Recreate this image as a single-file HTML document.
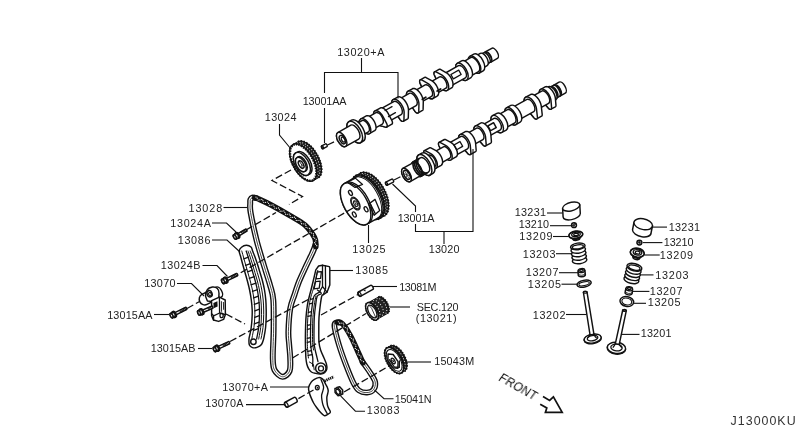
<!DOCTYPE html>
<html lang="en"><head><meta charset="utf-8"><title>J13000KU</title>
<style>
html,body{margin:0;padding:0;background:#fff;}
body{width:800px;height:437px;overflow:hidden;}
svg{display:block;}
.lb text{font-family:"Liberation Sans",sans-serif;font-size:10.8px;fill:#222;}
.dn{font-family:"Liberation Sans",sans-serif;font-size:12.4px;fill:#333;}
.fr{font-family:"Liberation Sans",sans-serif;font-size:11.8px;fill:#111;}
.ld{fill:none;stroke:#111;stroke-width:1.1;}
.ds{fill:none;stroke:#111;stroke-width:1.3;stroke-dasharray:7.2 3;}
.p{fill:#fff;stroke:#111;stroke-width:1.45;stroke-linejoin:round;stroke-linecap:round;}
.n{fill:none;stroke:#111;stroke-width:1.3;stroke-linejoin:round;stroke-linecap:round;}
.k{fill:#111;stroke:none;}
.kb{fill:#222;stroke:#111;stroke-width:1;}
.tt{fill:none;stroke:#111;stroke-width:2;}
.tw{fill:none;stroke:#fff;stroke-width:.9;}
.c1{fill:none;stroke:#111;stroke-linecap:round;stroke-linejoin:round;}
.c2{fill:none;stroke:#fff;stroke-linecap:round;stroke-linejoin:round;}
.c3{fill:none;stroke:#333;stroke-width:.9;}
.c4{fill:none;stroke:#fff;stroke-width:1.2;stroke-linecap:round;}
</style></head><body>
<svg width="800" height="437" viewBox="0 0 800 437">
<defs><filter id="nf" x="0" y="0" width="800" height="437" filterUnits="userSpaceOnUse"><feOffset dx="0" dy="0"/></filter></defs>
<rect width="800" height="437" fill="#fff"/>
<g transform="translate(341.7,139.5) rotate(-29.4)">
<path class="p" d="M168,-5.8 L175.5,-5.8 A2.9,5.8 0 0 1 175.5,5.8 L168,5.8 A2.9,5.8 0 0 1 168,-5.8 Z"/>
<ellipse class="p" cx="168" cy="0" rx="2.9" ry="5.8"/>
<path class="p" d="M166,-4.8 L168,-4.8 A2.4,4.8 0 0 1 168,4.8 L166,4.8 A2.4,4.8 0 0 1 166,-4.8 Z"/>
<ellipse class="p" cx="166" cy="0" rx="2.4" ry="4.8"/>
<path class="p" d="M163,-5.8 L166,-5.8 A2.9,5.8 0 0 1 166,5.8 L163,5.8 A2.9,5.8 0 0 1 163,-5.8 Z"/>
<ellipse class="p" cx="163" cy="0" rx="2.9" ry="5.8"/>
<path class="p" d="M157,-7 L163,-7 A3.5,7 0 0 1 163,7 L157,7 A3.5,7 0 0 1 157,-7 Z"/>
<ellipse class="p" cx="157" cy="0" rx="3.5" ry="7"/>
<path class="p" d="M152.5,-9.6 L157,-9.6 A4.8,9.6 0 0 1 157,9.6 L152.5,9.6 A4.8,9.6 0 0 1 152.5,-9.6 Z"/>
<ellipse class="p" cx="152.5" cy="0" rx="4.8" ry="9.6"/>
<path class="p" d="M143,-8 L152.5,-8 A4,8 0 0 1 152.5,8 L143,8 A4,8 0 0 1 143,-8 Z"/>
<ellipse class="p" cx="143" cy="0" rx="4" ry="8"/>
<path class="p" d="M138,-9.6 L143,-9.6 A4.8,9.6 0 0 1 143,9.6 L138,9.6 A4.8,9.6 0 0 1 138,-9.6 Z"/>
<ellipse class="p" cx="138" cy="0" rx="4.8" ry="9.6"/>
<path class="p" d="M121,-7 L138,-7 A3.5,7 0 0 1 138,7 L121,7 A3.5,7 0 0 1 121,-7 Z"/>
<ellipse class="p" cx="121" cy="0" rx="3.5" ry="7"/>
<path class="p" d="M119.25,-13.38 L119.5,-13.35 L119.74,-13.26 L119.98,-13.1 L120.2,-12.88 L120.4,-12.6 L123.74,-7.14 L124.18,-6.36 L124.57,-5.48 L124.9,-4.5 L125.16,-3.44 L125.35,-2.33 L125.46,-1.18 L125.5,0 L125.46,1.18 L125.35,2.33 L125.16,3.44 L124.9,4.5 L124.57,5.48 L124.18,6.36 L123.74,7.14 L123.25,7.79 L122.72,8.31 L122.16,8.69 L121.59,8.92 L121,9 L116,9 L115.41,8.92 L114.84,8.69 L114.28,8.31 L113.75,7.79 L113.26,7.14 L112.82,6.36 L112.43,5.48 L112.1,4.5 L111.84,3.44 L111.65,2.33 L111.54,1.18 L111.5,0 L111.54,-1.18 L112.38,-10.1 L112.43,-10.58 L112.51,-11.05 L112.62,-11.49 L112.75,-11.9 L112.92,-12.28 L113.1,-12.6 L113.31,-12.88 L113.53,-13.1 L113.76,-13.26 L114.01,-13.35 L114.25,-13.38 Z" />
<path class="p" d="M111.5,0 L111.54,-1.18 L112.38,-10.1 L112.43,-10.58 L112.51,-11.05 L112.62,-11.49 L112.75,-11.9 L112.92,-12.28 L113.1,-12.6 L113.31,-12.88 L113.53,-13.1 L113.76,-13.26 L114.01,-13.35 L114.25,-13.38 L114.5,-13.35 L114.74,-13.26 L114.98,-13.1 L115.2,-12.88 L115.4,-12.6 L118.74,-7.14 L119.18,-6.36 L119.57,-5.48 L119.9,-4.5 L120.16,-3.44 L120.35,-2.33 L120.46,-1.18 L120.5,0 L120.46,1.18 L120.35,2.33 L120.16,3.44 L119.9,4.5 L119.57,5.48 L119.18,6.36 L118.74,7.14 L118.25,7.79 L117.72,8.31 L117.16,8.69 L116.59,8.92 L116,9 L115.41,8.92 L114.84,8.69 L114.28,8.31 L113.75,7.79 L113.26,7.14 L112.82,6.36 L112.43,5.48 L112.1,4.5 L111.84,3.44 L111.65,2.33 L111.54,1.18 Z" />
<path class="p" d="M104.5,-6.5 L116,-6.5 A3.25,6.5 0 0 1 116,6.5 L104.5,6.5 A3.25,6.5 0 0 1 104.5,-6.5 Z"/>
<ellipse class="p" cx="104.5" cy="0" rx="3.25" ry="6.5"/>
<path class="p" d="M102.75,-13.38 L103,-13.35 L103.24,-13.26 L103.48,-13.1 L103.7,-12.88 L103.9,-12.6 L107.24,-7.14 L107.68,-6.36 L108.07,-5.48 L108.4,-4.5 L108.66,-3.44 L108.85,-2.33 L108.96,-1.18 L109,0 L108.96,1.18 L108.85,2.33 L108.66,3.44 L108.4,4.5 L108.07,5.48 L107.68,6.36 L107.24,7.14 L106.75,7.79 L106.22,8.31 L105.66,8.69 L105.09,8.92 L104.5,9 L99.5,9 L98.91,8.92 L98.34,8.69 L97.78,8.31 L97.25,7.79 L96.76,7.14 L96.32,6.36 L95.93,5.48 L95.6,4.5 L95.34,3.44 L95.15,2.33 L95.04,1.18 L95,0 L95.04,-1.18 L95.88,-10.1 L95.93,-10.58 L96.01,-11.05 L96.12,-11.49 L96.25,-11.9 L96.42,-12.28 L96.6,-12.6 L96.81,-12.88 L97.03,-13.1 L97.26,-13.26 L97.51,-13.35 L97.75,-13.38 Z" />
<path class="p" d="M95,0 L95.04,-1.18 L95.88,-10.1 L95.93,-10.58 L96.01,-11.05 L96.12,-11.49 L96.25,-11.9 L96.42,-12.28 L96.6,-12.6 L96.81,-12.88 L97.03,-13.1 L97.26,-13.26 L97.51,-13.35 L97.75,-13.38 L98,-13.35 L98.24,-13.26 L98.48,-13.1 L98.7,-12.88 L98.9,-12.6 L102.24,-7.14 L102.68,-6.36 L103.07,-5.48 L103.4,-4.5 L103.66,-3.44 L103.85,-2.33 L103.96,-1.18 L104,0 L103.96,1.18 L103.85,2.33 L103.66,3.44 L103.4,4.5 L103.07,5.48 L102.68,6.36 L102.24,7.14 L101.75,7.79 L101.22,8.31 L100.66,8.69 L100.09,8.92 L99.5,9 L98.91,8.92 L98.34,8.69 L97.78,8.31 L97.25,7.79 L96.76,7.14 L96.32,6.36 L95.93,5.48 L95.6,4.5 L95.34,3.44 L95.15,2.33 L95.04,1.18 Z" />
<path class="p" d="M86.5,-6.5 L99.5,-6.5 A3.25,6.5 0 0 1 99.5,6.5 L86.5,6.5 A3.25,6.5 0 0 1 86.5,-6.5 Z"/>
<ellipse class="p" cx="86.5" cy="0" rx="3.25" ry="6.5"/>
<path class="p" d="M86.5,-9.5 L87.12,-9.42 L87.73,-9.18 L88.32,-8.78 L88.88,-8.23 L89.39,-7.54 L89.86,-6.72 L90.27,-5.78 L90.61,-4.75 L90.89,-3.63 L91.09,-2.46 L91.21,-1.24 L91.25,0 L91.21,1.24 L91.09,2.46 L90.89,3.63 L90.61,4.75 L90.27,5.78 L89.86,6.72 L89.39,7.54 L85.83,13.51 L85.61,13.8 L85.38,14.03 L85.13,14.2 L84.88,14.3 L84.62,14.34 L79.62,14.34 L79.36,14.3 L79.1,14.2 L78.85,14.03 L78.62,13.8 L78.4,13.51 L78.21,13.17 L78.03,12.78 L77.89,12.34 L77.77,11.87 L77.69,11.38 L77.64,10.87 L76.79,1.24 L76.75,0 L76.79,-1.24 L76.91,-2.46 L77.11,-3.63 L77.39,-4.75 L77.73,-5.78 L78.14,-6.72 L78.61,-7.54 L79.12,-8.23 L79.68,-8.78 L80.27,-9.18 L80.88,-9.42 L81.5,-9.5 Z" />
<path class="p" d="M76.75,0 L76.79,-1.24 L76.91,-2.46 L77.11,-3.63 L77.39,-4.75 L77.73,-5.78 L78.14,-6.72 L78.61,-7.54 L79.12,-8.23 L79.68,-8.78 L80.27,-9.18 L80.88,-9.42 L81.5,-9.5 L82.12,-9.42 L82.73,-9.18 L83.32,-8.78 L83.88,-8.23 L84.39,-7.54 L84.86,-6.72 L85.27,-5.78 L85.61,-4.75 L85.89,-3.63 L86.09,-2.46 L86.21,-1.24 L86.25,0 L86.21,1.24 L86.09,2.46 L85.89,3.63 L85.61,4.75 L85.27,5.78 L84.86,6.72 L84.39,7.54 L80.83,13.51 L80.61,13.8 L80.38,14.03 L80.13,14.2 L79.88,14.3 L79.62,14.34 L79.36,14.3 L79.1,14.2 L78.85,14.03 L78.62,13.8 L78.4,13.51 L78.21,13.17 L78.03,12.78 L77.89,12.34 L77.77,11.87 L77.69,11.38 L77.64,10.87 L76.79,1.24 Z" />
<path class="p" d="M69.5,-7 L81.5,-7 A3.5,7 0 0 1 81.5,7 L69.5,7 A3.5,7 0 0 1 69.5,-7 Z"/>
<ellipse class="p" cx="69.5" cy="0" rx="3.5" ry="7"/>
<path class="p" d="M69.5,-9.5 L70.12,-9.42 L70.73,-9.18 L71.32,-8.78 L71.88,-8.23 L72.39,-7.54 L72.86,-6.72 L73.27,-5.78 L73.61,-4.75 L73.89,-3.63 L74.09,-2.46 L74.21,-1.24 L74.25,0 L74.21,1.24 L74.09,2.46 L73.89,3.63 L73.61,4.75 L73.27,5.78 L72.86,6.72 L72.39,7.54 L68.83,13.51 L68.61,13.8 L68.38,14.03 L68.13,14.2 L67.88,14.3 L67.62,14.34 L62.62,14.34 L62.36,14.3 L62.1,14.2 L61.85,14.03 L61.62,13.8 L61.4,13.51 L61.21,13.17 L61.03,12.78 L60.89,12.34 L60.77,11.87 L60.69,11.38 L60.64,10.87 L59.79,1.24 L59.75,0 L59.79,-1.24 L59.91,-2.46 L60.11,-3.63 L60.39,-4.75 L60.73,-5.78 L61.14,-6.72 L61.61,-7.54 L62.12,-8.23 L62.68,-8.78 L63.27,-9.18 L63.88,-9.42 L64.5,-9.5 Z" />
<path class="p" d="M59.75,0 L59.79,-1.24 L59.91,-2.46 L60.11,-3.63 L60.39,-4.75 L60.73,-5.78 L61.14,-6.72 L61.61,-7.54 L62.12,-8.23 L62.68,-8.78 L63.27,-9.18 L63.88,-9.42 L64.5,-9.5 L65.12,-9.42 L65.73,-9.18 L66.32,-8.78 L66.88,-8.23 L67.39,-7.54 L67.86,-6.72 L68.27,-5.78 L68.61,-4.75 L68.89,-3.63 L69.09,-2.46 L69.21,-1.24 L69.25,0 L69.21,1.24 L69.09,2.46 L68.89,3.63 L68.61,4.75 L68.27,5.78 L67.86,6.72 L67.39,7.54 L63.83,13.51 L63.61,13.8 L63.38,14.03 L63.13,14.2 L62.88,14.3 L62.62,14.34 L62.36,14.3 L62.1,14.2 L61.85,14.03 L61.62,13.8 L61.4,13.51 L61.21,13.17 L61.03,12.78 L60.89,12.34 L60.77,11.87 L60.69,11.38 L60.64,10.87 L59.79,1.24 Z" />
<path class="p" d="M49,-7.5 L64,-7.5 A3.75,7.5 0 0 1 64,7.5 L49,7.5 A3.75,7.5 0 0 1 49,-7.5 Z"/>
<ellipse class="p" cx="49" cy="0" rx="3.75" ry="7.5"/>
<path class="p" d="M49,-8.5 L49.55,-8.43 L50.1,-8.21 L50.63,-7.85 L51.12,-7.36 L51.59,-6.74 L52.01,-6.01 L52.37,-5.17 L52.68,-4.25 L52.93,-3.25 L53.11,-2.2 L53.21,-1.11 L53.25,0 L53.02,7.73 L53,8.2 L52.96,8.66 L52.88,9.1 L52.78,9.52 L52.65,9.91 L52.49,10.26 L52.32,10.57 L52.12,10.82 L51.92,11.03 L51.69,11.18 L51.47,11.27 L51.23,11.3 L45.23,11.3 L45,11.27 L44.77,11.18 L44.55,11.03 L44.34,10.82 L40.88,7.36 L40.41,6.74 L39.99,6.01 L39.63,5.17 L39.32,4.25 L39.07,3.25 L38.89,2.2 L38.79,1.11 L38.75,0 L38.79,-1.11 L38.89,-2.2 L39.07,-3.25 L39.32,-4.25 L39.63,-5.17 L39.99,-6.01 L40.41,-6.74 L40.88,-7.36 L41.37,-7.85 L41.9,-8.21 L42.45,-8.43 L43,-8.5 Z" />
<path class="p" d="M38.75,0 L38.79,-1.11 L38.89,-2.2 L39.07,-3.25 L39.32,-4.25 L39.63,-5.17 L39.99,-6.01 L40.41,-6.74 L40.88,-7.36 L41.37,-7.85 L41.9,-8.21 L42.45,-8.43 L43,-8.5 L43.55,-8.43 L44.1,-8.21 L44.63,-7.85 L45.12,-7.36 L45.59,-6.74 L46.01,-6.01 L46.37,-5.17 L46.68,-4.25 L46.93,-3.25 L47.11,-2.2 L47.21,-1.11 L47.25,0 L47.02,7.73 L47,8.2 L46.96,8.66 L46.88,9.1 L46.78,9.52 L46.65,9.91 L46.49,10.26 L46.32,10.57 L46.12,10.82 L45.92,11.03 L45.69,11.18 L45.47,11.27 L45.23,11.3 L45,11.27 L44.77,11.18 L44.55,11.03 L44.34,10.82 L40.88,7.36 L40.41,6.74 L39.99,6.01 L39.63,5.17 L39.32,4.25 L39.07,3.25 L38.89,2.2 L38.79,1.11 Z" />
<path class="p" d="M33,-6.5 L43,-6.5 A3.25,6.5 0 0 1 43,6.5 L33,6.5 A3.25,6.5 0 0 1 33,-6.5 Z"/>
<ellipse class="p" cx="33" cy="0" rx="3.25" ry="6.5"/>
<path class="p" d="M33,-8.5 L33.55,-8.43 L34.1,-8.21 L34.63,-7.85 L35.12,-7.36 L35.59,-6.74 L36.01,-6.01 L36.37,-5.17 L36.68,-4.25 L36.93,-3.25 L37.11,-2.2 L37.21,-1.11 L37.25,0 L37.21,1.11 L37.11,2.2 L36.93,3.25 L36.68,4.25 L36.37,5.17 L36.01,6.01 L35.59,6.74 L35.12,7.36 L34.63,7.85 L34.1,8.21 L33.55,8.43 L33,8.5 L27,8.5 L26.45,8.43 L25.9,8.21 L25.37,7.85 L24.88,7.36 L24.41,6.74 L24,6.01 L23.63,5.17 L21.39,-0.88 L21.26,-1.27 L21.16,-1.69 L21.08,-2.13 L21.03,-2.59 L21.02,-3.05 L21.03,-3.52 L21.08,-3.98 L21.16,-4.42 L21.26,-4.84 L21.39,-5.23 L21.54,-5.58 L21.72,-5.89 L21.91,-6.15 L22.12,-6.35 L22.34,-6.5 L25.9,-8.21 L26.45,-8.43 L27,-8.5 Z" />
<path class="p" d="M21.02,-3.05 L21.03,-3.52 L21.08,-3.98 L21.16,-4.42 L21.26,-4.84 L21.39,-5.23 L21.54,-5.58 L21.72,-5.89 L21.91,-6.15 L22.12,-6.35 L22.34,-6.5 L25.9,-8.21 L26.45,-8.43 L27,-8.5 L27.55,-8.43 L28.1,-8.21 L28.63,-7.85 L29.12,-7.36 L29.59,-6.74 L30,-6.01 L30.37,-5.17 L30.68,-4.25 L30.93,-3.25 L31.11,-2.2 L31.21,-1.11 L31.25,0 L31.21,1.11 L31.11,2.2 L30.93,3.25 L30.68,4.25 L30.37,5.17 L30,6.01 L29.59,6.74 L29.12,7.36 L28.63,7.85 L28.1,8.21 L27.55,8.43 L27,8.5 L26.45,8.43 L25.9,8.21 L25.37,7.85 L24.88,7.36 L24.41,6.74 L24,6.01 L23.63,5.17 L21.39,-0.88 L21.26,-1.27 L21.16,-1.69 L21.08,-2.13 L21.03,-2.59 Z" />
<path class="p" d="M18,-6.5 L27,-6.5 A3.25,6.5 0 0 1 27,6.5 L18,6.5 A3.25,6.5 0 0 1 18,-6.5 Z"/>
<ellipse class="p" cx="18" cy="0" rx="3.25" ry="6.5"/>
<path class="p" d="M15,-12 L18,-12 A6,12 0 0 1 18,12 L15,12 A6,12 0 0 1 15,-12 Z"/>
<ellipse class="p" cx="15" cy="0" rx="6" ry="12"/>
<path class="p" d="M0,-8 L15,-8 A4,8 0 0 1 15,8 L0,8 A4,8 0 0 1 0,-8 Z"/>
<ellipse class="p" cx="0" cy="0" rx="4" ry="8"/>
<ellipse class="p" cx="0.6" cy="0.5" rx="2.6" ry="4.6" />
<ellipse class="n" cx="1.2" cy="0.8" rx="1.5" ry="2.8" />
<path class="n" d="M127,-3 L136,-3 L136,2 L127,2 Z" />
<path class="n" d="M52,-4 L60,-4 M52,3 L60,3" />
<path class="n" d="M90,4.5 L94,4.5 M107,4.6 L111,4.6" style="stroke-width:1.8"/>
</g>
<g transform="translate(406.5,175) rotate(-29.3)">
<path class="p" d="M173,-6.3 L178.5,-6.3 A3.15,6.3 0 0 1 178.5,6.3 L173,6.3 A3.15,6.3 0 0 1 173,-6.3 Z"/>
<ellipse class="p" cx="173" cy="0" rx="3.15" ry="6.3"/>
<path class="p" d="M171.5,-5 L173,-5 A2.5,5 0 0 1 173,5 L171.5,5 A2.5,5 0 0 1 171.5,-5 Z"/>
<ellipse class="p" cx="171.5" cy="0" rx="2.5" ry="5"/>
<path class="p" d="M169,-6.3 L171.5,-6.3 A3.15,6.3 0 0 1 171.5,6.3 L169,6.3 A3.15,6.3 0 0 1 169,-6.3 Z"/>
<ellipse class="p" cx="169" cy="0" rx="3.15" ry="6.3"/>
<path class="p" d="M167,-5 L169,-5 A2.5,5 0 0 1 169,5 L167,5 A2.5,5 0 0 1 167,-5 Z"/>
<ellipse class="p" cx="167" cy="0" rx="2.5" ry="5"/>
<path class="p" d="M164,-7.5 L167,-7.5 A3.75,7.5 0 0 1 167,7.5 L164,7.5 A3.75,7.5 0 0 1 164,-7.5 Z"/>
<ellipse class="p" cx="164" cy="0" rx="3.75" ry="7.5"/>
<path class="p" d="M164,-9 L164.59,-8.92 L165.16,-8.69 L165.72,-8.31 L166.25,-7.79 L166.74,-7.14 L167.18,-6.36 L167.57,-5.48 L167.9,-4.5 L168.16,-3.44 L168.35,-2.33 L168.46,-1.18 L168.5,0 L168.46,1.18 L168.35,2.33 L168.16,3.44 L167.9,4.5 L167.57,5.48 L167.18,6.36 L164.49,12.24 L164.31,12.57 L164.1,12.85 L163.88,13.06 L163.65,13.22 L163.4,13.32 L163.16,13.35 L158.16,13.35 L157.91,13.32 L157.67,13.22 L157.43,13.06 L157.21,12.85 L157.01,12.57 L156.82,12.24 L156.66,11.87 L156.52,11.46 L156.41,11.02 L154.84,3.44 L154.65,2.33 L154.54,1.18 L154.5,0 L154.54,-1.18 L154.65,-2.33 L154.84,-3.44 L155.1,-4.5 L155.43,-5.48 L155.82,-6.36 L156.26,-7.14 L156.75,-7.79 L157.28,-8.31 L157.84,-8.69 L158.41,-8.92 L159,-9 Z" />
<path class="p" d="M154.5,0 L154.54,-1.18 L154.65,-2.33 L154.84,-3.44 L155.1,-4.5 L155.43,-5.48 L155.82,-6.36 L156.26,-7.14 L156.75,-7.79 L157.28,-8.31 L157.84,-8.69 L158.41,-8.92 L159,-9 L159.59,-8.92 L160.16,-8.69 L160.72,-8.31 L161.25,-7.79 L161.74,-7.14 L162.18,-6.36 L162.57,-5.48 L162.9,-4.5 L163.16,-3.44 L163.35,-2.33 L163.46,-1.18 L163.5,0 L163.46,1.18 L163.35,2.33 L163.16,3.44 L162.9,4.5 L162.57,5.48 L162.18,6.36 L159.49,12.24 L159.31,12.57 L159.1,12.85 L158.88,13.06 L158.65,13.22 L158.4,13.32 L158.16,13.35 L157.91,13.32 L157.67,13.22 L157.43,13.06 L157.21,12.85 L157.01,12.57 L156.82,12.24 L156.66,11.87 L156.52,11.46 L156.41,11.02 L154.84,3.44 L154.65,2.33 L154.54,1.18 Z" />
<path class="p" d="M147.5,-7 L159,-7 A3.5,7 0 0 1 159,7 L147.5,7 A3.5,7 0 0 1 147.5,-7 Z"/>
<ellipse class="p" cx="147.5" cy="0" rx="3.5" ry="7"/>
<path class="p" d="M147.5,-9.5 L148.12,-9.42 L148.73,-9.18 L149.32,-8.78 L149.88,-8.23 L150.39,-7.54 L150.86,-6.72 L151.27,-5.78 L151.61,-4.75 L151.89,-3.63 L152.09,-2.46 L152.21,-1.24 L152.25,0 L152.21,1.24 L152.09,2.46 L151.89,3.63 L151.61,4.75 L151.27,5.78 L148.13,13.27 L147.95,13.66 L147.76,14.01 L147.54,14.3 L147.31,14.53 L147.06,14.7 L146.8,14.8 L146.54,14.83 L141.04,14.83 L140.78,14.8 L140.53,14.7 L140.28,14.53 L140.05,14.3 L139.83,14.01 L139.63,13.66 L139.46,13.27 L139.32,12.84 L139.2,12.37 L137.61,3.63 L137.41,2.46 L137.29,1.24 L137.25,0 L137.29,-1.24 L137.41,-2.46 L137.61,-3.63 L137.89,-4.75 L138.23,-5.78 L138.64,-6.72 L139.11,-7.54 L139.62,-8.23 L140.18,-8.78 L140.77,-9.18 L141.38,-9.42 L142,-9.5 Z" />
<path class="p" d="M137.25,0 L137.29,-1.24 L137.41,-2.46 L137.61,-3.63 L137.89,-4.75 L138.23,-5.78 L138.64,-6.72 L139.11,-7.54 L139.62,-8.23 L140.18,-8.78 L140.77,-9.18 L141.38,-9.42 L142,-9.5 L142.62,-9.42 L143.23,-9.18 L143.82,-8.78 L144.38,-8.23 L144.89,-7.54 L145.36,-6.72 L145.77,-5.78 L146.11,-4.75 L146.39,-3.63 L146.59,-2.46 L146.71,-1.24 L146.75,0 L146.71,1.24 L146.59,2.46 L146.39,3.63 L146.11,4.75 L145.77,5.78 L142.63,13.27 L142.45,13.66 L142.26,14.01 L142.04,14.3 L141.81,14.53 L141.56,14.7 L141.3,14.8 L141.04,14.83 L140.78,14.8 L140.53,14.7 L140.28,14.53 L140.05,14.3 L139.83,14.01 L139.63,13.66 L139.46,13.27 L139.32,12.84 L139.2,12.37 L137.61,3.63 L137.41,2.46 L137.29,1.24 Z" />
<path class="p" d="M125,-7 L142,-7 A3.5,7 0 0 1 142,7 L125,7 A3.5,7 0 0 1 125,-7 Z"/>
<ellipse class="p" cx="125" cy="0" rx="3.5" ry="7"/>
<path class="p" d="M120,-9.6 L125,-9.6 A4.8,9.6 0 0 1 125,9.6 L120,9.6 A4.8,9.6 0 0 1 120,-9.6 Z"/>
<ellipse class="p" cx="120" cy="0" rx="4.8" ry="9.6"/>
<path class="p" d="M109,-7.5 L120,-7.5 A3.75,7.5 0 0 1 120,7.5 L109,7.5 A3.75,7.5 0 0 1 109,-7.5 Z"/>
<ellipse class="p" cx="109" cy="0" rx="3.75" ry="7.5"/>
<path class="p" d="M104,-9.6 L109,-9.6 A4.8,9.6 0 0 1 109,9.6 L104,9.6 A4.8,9.6 0 0 1 104,-9.6 Z"/>
<ellipse class="p" cx="104" cy="0" rx="4.8" ry="9.6"/>
<path class="p" d="M90,-6.5 L104,-6.5 A3.25,6.5 0 0 1 104,6.5 L90,6.5 A3.25,6.5 0 0 1 90,-6.5 Z"/>
<ellipse class="p" cx="90" cy="0" rx="3.25" ry="6.5"/>
<path class="p" d="M90,-9 L90.59,-8.92 L91.16,-8.69 L91.72,-8.31 L92.25,-7.79 L92.74,-7.14 L93.18,-6.36 L93.57,-5.48 L93.9,-4.5 L94.16,-3.44 L94.35,-2.33 L94.46,-1.18 L94.5,0 L94.46,1.18 L94.35,2.33 L94.16,3.44 L93.9,4.5 L93.57,5.48 L93.18,6.36 L90.49,12.24 L90.31,12.57 L90.1,12.85 L89.88,13.06 L89.64,13.22 L89.4,13.32 L89.16,13.35 L83.16,13.35 L82.91,13.32 L82.67,13.22 L82.43,13.06 L82.21,12.85 L82.01,12.57 L81.82,12.24 L81.66,11.87 L81.52,11.46 L81.41,11.02 L79.84,3.44 L79.65,2.33 L79.54,1.18 L79.5,0 L79.54,-1.18 L79.65,-2.33 L79.84,-3.44 L80.1,-4.5 L80.43,-5.48 L80.82,-6.36 L81.26,-7.14 L81.75,-7.79 L82.28,-8.31 L82.84,-8.69 L83.41,-8.92 L84,-9 Z" />
<path class="p" d="M79.5,0 L79.54,-1.18 L79.65,-2.33 L79.84,-3.44 L80.1,-4.5 L80.43,-5.48 L80.82,-6.36 L81.26,-7.14 L81.75,-7.79 L82.28,-8.31 L82.84,-8.69 L83.41,-8.92 L84,-9 L84.59,-8.92 L85.16,-8.69 L85.72,-8.31 L86.25,-7.79 L86.74,-7.14 L87.18,-6.36 L87.57,-5.48 L87.9,-4.5 L88.16,-3.44 L88.35,-2.33 L88.46,-1.18 L88.5,0 L88.46,1.18 L88.35,2.33 L88.16,3.44 L87.9,4.5 L87.57,5.48 L87.18,6.36 L84.49,12.24 L84.31,12.57 L84.1,12.85 L83.88,13.06 L83.64,13.22 L83.4,13.32 L83.16,13.35 L82.91,13.32 L82.67,13.22 L82.43,13.06 L82.21,12.85 L82.01,12.57 L81.82,12.24 L81.66,11.87 L81.52,11.46 L81.41,11.02 L79.84,3.44 L79.65,2.33 L79.54,1.18 Z" />
<path class="p" d="M72.5,-6.5 L84,-6.5 A3.25,6.5 0 0 1 84,6.5 L72.5,6.5 A3.25,6.5 0 0 1 72.5,-6.5 Z"/>
<ellipse class="p" cx="72.5" cy="0" rx="3.25" ry="6.5"/>
<path class="p" d="M72.5,-9 L73.09,-8.92 L73.66,-8.69 L74.22,-8.31 L74.75,-7.79 L75.24,-7.14 L75.68,-6.36 L76.07,-5.48 L76.4,-4.5 L76.66,-3.44 L76.85,-2.33 L76.96,-1.18 L77,0 L76.96,1.18 L76.85,2.33 L76.66,3.44 L76.4,4.5 L76.07,5.48 L75.68,6.36 L72.99,12.24 L72.81,12.57 L72.6,12.85 L72.38,13.06 L72.14,13.22 L71.9,13.32 L71.66,13.35 L65.66,13.35 L65.41,13.32 L65.17,13.22 L64.93,13.06 L64.71,12.85 L64.51,12.57 L64.32,12.24 L64.16,11.87 L64.02,11.46 L63.91,11.02 L62.34,3.44 L62.15,2.33 L62.04,1.18 L62,0 L62.04,-1.18 L62.15,-2.33 L62.34,-3.44 L62.6,-4.5 L62.93,-5.48 L63.32,-6.36 L63.76,-7.14 L64.25,-7.79 L64.78,-8.31 L65.34,-8.69 L65.91,-8.92 L66.5,-9 Z" />
<path class="p" d="M62,0 L62.04,-1.18 L62.15,-2.33 L62.34,-3.44 L62.6,-4.5 L62.93,-5.48 L63.32,-6.36 L63.76,-7.14 L64.25,-7.79 L64.78,-8.31 L65.34,-8.69 L65.91,-8.92 L66.5,-9 L67.09,-8.92 L67.66,-8.69 L68.22,-8.31 L68.75,-7.79 L69.24,-7.14 L69.68,-6.36 L70.07,-5.48 L70.4,-4.5 L70.66,-3.44 L70.85,-2.33 L70.96,-1.18 L71,0 L70.96,1.18 L70.85,2.33 L70.66,3.44 L70.4,4.5 L70.07,5.48 L69.68,6.36 L66.99,12.24 L66.81,12.57 L66.6,12.85 L66.38,13.06 L66.14,13.22 L65.9,13.32 L65.66,13.35 L65.41,13.32 L65.17,13.22 L64.93,13.06 L64.71,12.85 L64.51,12.57 L64.32,12.24 L64.16,11.87 L64.02,11.46 L63.91,11.02 L62.34,3.44 L62.15,2.33 L62.04,1.18 Z" />
<path class="p" d="M52,-7 L66,-7 A3.5,7 0 0 1 66,7 L52,7 A3.5,7 0 0 1 52,-7 Z"/>
<ellipse class="p" cx="52" cy="0" rx="3.5" ry="7"/>
<path class="p" d="M50.39,-12.43 L50.62,-12.4 L50.85,-12.31 L51.07,-12.16 L51.28,-11.95 L51.47,-11.69 L54.59,-6.74 L55.01,-6.01 L55.37,-5.17 L55.68,-4.25 L55.93,-3.25 L56.11,-2.2 L56.21,-1.11 L56.25,0 L56.21,1.11 L56.11,2.2 L55.93,3.25 L55.68,4.25 L55.37,5.17 L55.01,6.01 L54.59,6.74 L54.12,7.36 L53.63,7.85 L53.1,8.21 L52.55,8.43 L52,8.5 L46,8.5 L45.45,8.43 L44.9,8.21 L44.37,7.85 L43.88,7.36 L43.41,6.74 L42.99,6.01 L42.63,5.17 L42.32,4.25 L42.07,3.25 L41.89,2.2 L41.79,1.11 L41.75,0 L41.79,-1.11 L41.89,-2.2 L42.66,-9.79 L42.74,-10.23 L42.84,-10.65 L42.97,-11.04 L43.12,-11.39 L43.3,-11.69 L43.49,-11.95 L43.7,-12.16 L43.93,-12.31 L44.15,-12.4 L44.39,-12.43 Z" />
<path class="p" d="M41.75,0 L41.79,-1.11 L41.89,-2.2 L42.66,-9.79 L42.74,-10.23 L42.84,-10.65 L42.97,-11.04 L43.12,-11.39 L43.3,-11.69 L43.49,-11.95 L43.7,-12.16 L43.93,-12.31 L44.15,-12.4 L44.39,-12.43 L44.62,-12.4 L44.85,-12.31 L45.07,-12.16 L45.28,-11.95 L45.47,-11.69 L48.59,-6.74 L49.01,-6.01 L49.37,-5.17 L49.68,-4.25 L49.93,-3.25 L50.11,-2.2 L50.21,-1.11 L50.25,0 L50.21,1.11 L50.11,2.2 L49.93,3.25 L49.68,4.25 L49.37,5.17 L49.01,6.01 L48.59,6.74 L48.12,7.36 L47.63,7.85 L47.1,8.21 L46.55,8.43 L46,8.5 L45.45,8.43 L44.9,8.21 L44.37,7.85 L43.88,7.36 L43.41,6.74 L42.99,6.01 L42.63,5.17 L42.32,4.25 L42.07,3.25 L41.89,2.2 L41.79,1.11 Z" />
<path class="p" d="M35,-6.5 L46,-6.5 A3.25,6.5 0 0 1 46,6.5 L35,6.5 A3.25,6.5 0 0 1 35,-6.5 Z"/>
<ellipse class="p" cx="35" cy="0" rx="3.25" ry="6.5"/>
<path class="p" d="M33.39,-12.43 L33.62,-12.4 L33.85,-12.31 L34.07,-12.16 L34.28,-11.95 L34.47,-11.69 L37.59,-6.74 L38.01,-6.01 L38.37,-5.17 L38.68,-4.25 L38.93,-3.25 L39.11,-2.2 L39.21,-1.11 L39.25,0 L39.21,1.11 L39.11,2.2 L38.93,3.25 L38.68,4.25 L38.37,5.17 L38.01,6.01 L37.59,6.74 L37.12,7.36 L36.63,7.85 L36.1,8.21 L35.55,8.43 L35,8.5 L29,8.5 L28.45,8.43 L27.9,8.21 L27.37,7.85 L26.88,7.36 L26.41,6.74 L26,6.01 L25.63,5.17 L25.32,4.25 L25.07,3.25 L24.89,2.2 L24.79,1.11 L24.75,0 L24.79,-1.11 L24.89,-2.2 L25.66,-9.79 L25.74,-10.23 L25.84,-10.65 L25.97,-11.04 L26.12,-11.39 L26.3,-11.69 L26.5,-11.95 L26.7,-12.16 L26.93,-12.31 L27.15,-12.4 L27.39,-12.43 Z" />
<path class="p" d="M24.75,0 L24.79,-1.11 L24.89,-2.2 L25.66,-9.79 L25.74,-10.23 L25.84,-10.65 L25.97,-11.04 L26.12,-11.39 L26.3,-11.69 L26.5,-11.95 L26.7,-12.16 L26.93,-12.31 L27.15,-12.4 L27.39,-12.43 L27.62,-12.4 L27.85,-12.31 L28.07,-12.16 L28.28,-11.95 L28.47,-11.69 L31.59,-6.74 L32.01,-6.01 L32.37,-5.17 L32.68,-4.25 L32.93,-3.25 L33.11,-2.2 L33.21,-1.11 L33.25,0 L33.21,1.11 L33.11,2.2 L32.93,3.25 L32.68,4.25 L32.37,5.17 L32.01,6.01 L31.59,6.74 L31.12,7.36 L30.63,7.85 L30.1,8.21 L29.55,8.43 L29,8.5 L28.45,8.43 L27.9,8.21 L27.37,7.85 L26.88,7.36 L26.41,6.74 L26,6.01 L25.63,5.17 L25.32,4.25 L25.07,3.25 L24.89,2.2 L24.79,1.11 Z" />
<path class="p" d="M24,-6.5 L29,-6.5 A3.25,6.5 0 0 1 29,6.5 L24,6.5 A3.25,6.5 0 0 1 24,-6.5 Z"/>
<ellipse class="p" cx="24" cy="0" rx="3.25" ry="6.5"/>
<path class="p" d="M20.5,-11.5 L24,-11.5 A5.75,11.5 0 0 1 24,11.5 L20.5,11.5 A5.75,11.5 0 0 1 20.5,-11.5 Z"/>
<ellipse class="p" cx="20.5" cy="0" rx="5.75" ry="11.5"/>
<path class="p" d="M12,-8.2 L20.5,-8.2 A4.1,8.2 0 0 1 20.5,8.2 L12,8.2 A4.1,8.2 0 0 1 12,-8.2 Z"/>
<ellipse class="p" cx="12" cy="0" rx="4.1" ry="8.2"/>
<path class="p" d="M0,-7.5 L12,-7.5 A3.75,7.5 0 0 1 12,7.5 L0,7.5 A3.75,7.5 0 0 1 0,-7.5 Z"/>
<ellipse class="p" cx="0" cy="0" rx="3.75" ry="7.5"/>
<path class="n" d="M13.6,-8.2 A4.1,8.2 0 0 0 13.6,8.2" style="stroke-width:1.7"/>
<path class="n" d="M15.4,-8.2 A4.1,8.2 0 0 0 15.4,8.2" style="stroke-width:1.7"/>
<path class="n" d="M17.2,-8.2 A4.1,8.2 0 0 0 17.2,8.2" style="stroke-width:1.7"/>
<path class="n" d="M19,-8.2 A4.1,8.2 0 0 0 19,8.2" style="stroke-width:1.7"/>
<ellipse class="p" cx="0.4" cy="0" rx="2.6" ry="5" />
<path class="n" d="M0.4,-5 L0.4,5 M-1.8,-2.5 L2.6,2.5 M-1.8,2.5 L2.6,-2.5" style="stroke-width:.6"/>
<path class="n" d="M56,-3 L63,-3 L63,2.5 L56,2.5 Z" />
<path class="n" d="M95,-3 L101.5,-3 L101.5,2.5 L95,2.5 Z" style="stroke-width:1.5"/>
</g>
<g transform="translate(303.2,162.5) rotate(-29.3)">
<path class="kb" d="M0,-20.6 L5.6,-20.6 A10.3,20.6 0 0 1 5.6,20.6 L0,20.6 A10.3,20.6 0 0 1 0,-20.6 Z"/>
<path class="tt" d="M5.6,-20.6 A10.3,20.6 0 0 1 5.6,20.6" style="stroke-dasharray:1.5 1.3"/>
<path class="tw" d="M1.53,-20 A10.3,20 0 0 1 1.53,20" style="stroke-dasharray:.9 1.9"/>
<path class="tw" d="M4.07,-20 A10.3,20 0 0 1 4.07,20" style="stroke-dasharray:.9 1.9"/>
<ellipse class="p" cx="0" cy="0" rx="10.3" ry="20.6" />
<ellipse class="tt" cx="0" cy="0" rx="10.1" ry="20.2" style="stroke-dasharray:1.4 1.3;stroke-width:2.6"/>
<path class="p" d="M-1.8,-12 L0,-12 A6.8,12.6 0 0 1 0,13.2 L-1.8,13.2 A6.8,12.6 0 0 1 -1.8,-12 Z"/>
<ellipse class="p" cx="-1.8" cy="0.6" rx="6.8" ry="12.6"/>
<path class="p" d="M-3,-7.4 L-1.8,-7.4 A4.32,8 0 0 1 -1.8,8.6 L-3,8.6 A4.32,8 0 0 1 -3,-7.4 Z"/>
<ellipse class="p" cx="-3" cy="0.6" rx="4.32" ry="8"/>
<ellipse class="p" cx="-2.8" cy="0.8" rx="2.2" ry="4.2" />
<path class="n" d="M-2.8,-3.2 L-2.4,1.2 L-3.8,4.6 M-2.4,1.2 L-1.0,3.2" style="stroke-width:.8"/>
</g>
<g transform="translate(355.6,203.9) rotate(-29.3)">
<path class="kb" d="M14,-24.5 L19,-24.5 A12.99,24.5 0 0 1 19,24.5 L14,24.5 A12.99,24.5 0 0 1 14,-24.5 Z"/>
<path class="tt" d="M19,-24.5 A12.99,24.5 0 0 1 19,24.5" style="stroke-dasharray:1.5 1.3"/>
<path class="tw" d="M15.36,-23.9 A12.99,23.9 0 0 1 15.36,23.9" style="stroke-dasharray:.9 1.9"/>
<path class="tw" d="M17.64,-23.9 A12.99,23.9 0 0 1 17.64,23.9" style="stroke-dasharray:.9 1.9"/>
<ellipse class="p" cx="14" cy="0" rx="13" ry="24.5" />
<ellipse class="tt" cx="14" cy="0" rx="13" ry="24.5" style="stroke-dasharray:1.5 1.3;stroke-width:2"/>
<path class="p" d="M0,-23.3 L14,-23.3 A11.65,23.3 0 0 1 14,23.3 L0,23.3 A11.65,23.3 0 0 1 0,-23.3 Z"/>
<ellipse class="p" cx="0" cy="0" rx="11.65" ry="23.3"/>
<path class="n" d="M3.4,-22.9 L12.4,-22.6 L15.6,-13.6 L7.6,-14.6 Z" />
<path class="n" d="M11.4,6.5 L19.2,5.6 L17.8,17.6 L10.6,19.0 Z" />
<path class="n" d="M12.8,8 L12.4,17.8" />
<path class="n" d="M1.8,-23.3 A11.65,23.3 0 0 1 1.8,23.3"/>
<path class="n" d="M12.4,-23.3 A11.65,23.3 0 0 1 12.4,23.3" style="stroke-width:1"/>
<ellipse class="n" cx="0" cy="-0.4" rx="3.7" ry="7" />
<ellipse class="n" cx="0" cy="-0.4" rx="3" ry="5.7" style="stroke-width:1"/>
<ellipse class="p" cx="0.2" cy="-0.2" rx="1.7" ry="3.2" style="stroke-width:1"/>
<path class="n" d="M0.2,-3.4 L0.2,-0.2 L-1.2,2.4 M0.2,-0.2 L1.6,2.2" style="stroke-width:.7"/>
<ellipse class="n" cx="0.9" cy="-12.1" rx="1.6" ry="2.8" />
<ellipse class="n" cx="-6.3" cy="8.6" rx="1.6" ry="2.8" />
<ellipse class="n" cx="6.5" cy="9.8" rx="1.6" ry="2.8" />
</g>
<g transform="translate(372,311.4) rotate(-29.5)">
<path class="kb" d="M0,-9.3 L12.6,-9.3 A4.65,9.3 0 0 1 12.6,9.3 L0,9.3 A4.65,9.3 0 0 1 0,-9.3 Z"/>
<path class="tt" d="M12.6,-9.3 A4.65,9.3 0 0 1 12.6,9.3" style="stroke-dasharray:1.3 1.1"/>
<path class="tw" d="M2.36,-8.7 A4.65,8.7 0 0 1 2.36,8.7" style="stroke-dasharray:.9 1.9"/>
<path class="tw" d="M6.3,-8.7 A4.65,8.7 0 0 1 6.3,8.7" style="stroke-dasharray:.9 1.9"/>
<path class="tw" d="M10.24,-8.7 A4.65,8.7 0 0 1 10.24,8.7" style="stroke-dasharray:.9 1.9"/>
<ellipse class="p" cx="0" cy="0" rx="4.9" ry="9.7" />
<ellipse class="tt" cx="0" cy="0" rx="5" ry="9.9" style="stroke-dasharray:1.2 1.2;stroke-width:1.4"/>
<ellipse class="n" cx="0.2" cy="0.2" rx="3.6" ry="7.1" />
<path class="n" d="M0.2,-7.2 L1.2,-3 L0.2,7.6" style="stroke-width:.7"/>
</g>
<g transform="translate(394.2,360.4) rotate(-29.5)">
<path class="kb" d="M0,-14.4 L3.8,-14.4 A7.2,14.4 0 0 1 3.8,14.4 L0,14.4 A7.2,14.4 0 0 1 0,-14.4 Z"/>
<path class="tt" d="M3.8,-14.4 A7.2,14.4 0 0 1 3.8,14.4" style="stroke-dasharray:1.5 1.3"/>
<path class="tw" d="M1.9,-13.8 A7.2,13.8 0 0 1 1.9,13.8" style="stroke-dasharray:.9 1.9"/>
<ellipse class="p" cx="0" cy="0" rx="7.2" ry="14.4" />
<ellipse class="tt" cx="0" cy="0" rx="7.3" ry="14.6" style="stroke-dasharray:1.4 1.3;stroke-width:2"/>
<ellipse class="n" cx="0" cy="0" rx="6" ry="12" style="stroke-width:1"/>
<path class="p" d="M2.73,3.01 L-0.64,8.67 L-4.77,5.66 L-5.53,-3.01 L-2.16,-8.67 L1.97,-5.66 Z" />
<path class="n" d="M4.33,3.01 L0.96,8.67 L-3.17,5.66 L-3.93,-3.01" />
<ellipse class="n" cx="-1.2" cy="0" rx="1.6" ry="3" />
<ellipse class="k" cx="-1.2" cy="0" rx="0.7" ry="1.3" />
</g>
<path class="p" d="M240.5,256 C241.07,258.17 241.85,261.25 242.6,264 C243.35,266.75 244.2,269.67 245,272.5 C245.8,275.33 246.63,278.08 247.4,281 C248.17,283.92 248.95,286.83 249.6,290 C250.25,293.17 250.87,296.67 251.3,300 C251.73,303.33 252.08,306.83 252.2,310 C252.32,313.17 252.17,316.08 252,319 C251.83,321.92 251.53,325 251.2,327.5 C250.87,330 250.37,332.08 250,334 C249.63,335.92 249.1,337.17 249,339 C248.9,340.83 248.82,343.57 249.4,345 C249.98,346.43 251.23,347.2 252.5,347.6 C253.77,348 255.5,347.92 257,347.4 C258.5,346.88 260.4,345.9 261.5,344.5 C262.6,343.1 263.08,340.75 263.6,339 C264.12,337.25 264.27,335.92 264.6,334 C264.93,332.08 265.35,330 265.6,327.5 C265.85,325 266,321.92 266.1,319 C266.2,316.08 266.25,313.17 266.2,310 C266.15,306.83 266.08,303.33 265.8,300 C265.52,296.67 265.05,293.17 264.5,290 C263.95,286.83 263.25,283.92 262.5,281 C261.75,278.08 260.85,275.33 260,272.5 C259.15,269.67 258.3,266.75 257.4,264 C256.5,261.25 255.4,258.17 254.6,256 C253.8,253.83 253.2,252.5 252.6,251 C252,249.5 252.05,247.95 251,247 C249.95,246.05 247.88,245.27 246.3,245.3 C244.72,245.33 242.68,246.25 241.5,247.2 C240.32,248.15 239.37,249.53 239.2,251 C239.03,252.47 239.93,253.83 240.5,256 Z" />
<path class="n" d="M241.75,251 C241.98,251.83 242.57,253.83 243.18,256 C243.79,258.17 244.63,261.25 245.41,264 C246.19,266.75 247.04,269.67 247.85,272.5 C248.66,275.33 249.51,278.08 250.27,281 C251.03,283.92 251.8,286.83 252.43,290 C253.06,293.17 253.65,296.67 254.06,300 C254.46,303.33 254.76,306.83 254.86,310 C254.96,313.17 254.83,316.08 254.68,319 C254.53,321.92 254.25,325 253.94,327.5 C253.62,330 253.13,332.08 252.77,334 C252.41,335.92 251.94,338.17 251.77,339" style="stroke-width:1"/>
<path class="n" d="M246.17,251 C246.45,251.83 247.14,253.83 247.83,256 C248.52,258.17 249.47,261.25 250.3,264 C251.12,266.75 251.97,269.67 252.8,272.5 C253.63,275.33 254.49,278.08 255.25,281 C256.01,283.92 256.75,286.83 257.35,290 C257.95,293.17 258.48,296.67 258.84,300 C259.2,303.33 259.4,306.83 259.48,310 C259.56,313.17 259.46,316.08 259.33,319 C259.2,321.92 258.98,325 258.69,327.5 C258.4,330 257.94,332.08 257.59,334 C257.24,335.92 256.76,338.17 256.59,339" />
<path class="n" d="M248.04,251 C248.34,251.83 249.09,253.83 249.81,256 C250.53,258.17 251.52,261.25 252.37,264 C253.22,266.75 254.07,269.67 254.9,272.5 C255.73,275.33 256.61,278.08 257.37,281 C258.12,283.92 258.85,286.83 259.43,290 C260.02,293.17 260.54,296.67 260.87,300 C261.2,303.33 261.37,306.83 261.44,310 C261.51,313.17 261.43,316.08 261.31,319 C261.18,321.92 260.98,325 260.7,327.5 C260.43,330 259.98,332.08 259.64,334 C259.29,335.92 258.8,338.17 258.64,339" style="stroke-width:1"/>
<path class="n" d="M250.19,251 C250.5,251.83 251.3,253.83 252.06,256 C252.82,258.17 253.86,261.25 254.74,264 C255.61,266.75 256.46,269.67 257.3,272.5 C258.14,275.33 259.03,278.08 259.78,281 C260.53,283.92 261.25,286.83 261.82,290 C262.39,293.17 262.88,296.67 263.19,300 C263.5,303.33 263.62,306.83 263.68,310 C263.74,313.17 263.67,316.08 263.56,319 C263.45,321.92 263.27,325 263.01,327.5 C262.74,330 262.31,332.08 261.97,334 C261.63,335.92 261.14,338.17 260.97,339" style="stroke-width:1"/>
<path class="n" d="M243.74,258.9 L248.45,257.1" style="stroke-width:1.3"/>
<path class="n" d="M245.56,265.4 L250.44,263.6" style="stroke-width:1.3"/>
<path class="n" d="M247.42,271.9 L252.36,270.1" style="stroke-width:1.3"/>
<path class="n" d="M249.27,278.4 L254.24,276.6" style="stroke-width:1.3"/>
<path class="n" d="M250.99,284.9 L255.95,283.1" style="stroke-width:1.3"/>
<path class="n" d="M252.51,291.4 L257.42,289.6" style="stroke-width:1.3"/>
<path class="n" d="M253.57,297.9 L258.39,296.1" style="stroke-width:1.3"/>
<path class="n" d="M254.34,304.4 L259.06,302.6" style="stroke-width:1.3"/>
<path class="n" d="M254.86,310.9 L259.48,309.1" style="stroke-width:1.3"/>
<path class="n" d="M254.73,317.4 L259.37,315.6" style="stroke-width:1.3"/>
<path class="n" d="M254.33,323.9 L259.03,322.1" style="stroke-width:1.3"/>
<path class="n" d="M253.58,330.4 L258.35,328.6" style="stroke-width:1.3"/>
<ellipse class="p" cx="253.4" cy="341.8" rx="2.7" ry="2.7" />
<path class="p" d="M315.8,269.9 L318.6,266 L322.5,265.2 L329.4,266.6 L329.8,268 L329.8,285 L327,292.2 L323.4,294.6 C323.13,294.83 322.32,294.27 321.8,296 C321.28,297.73 320.77,301.42 320.3,305 C319.83,308.58 319.25,313.33 319,317.5 C318.75,321.67 318.8,325.83 318.8,330 C318.8,334.17 318.7,339.17 319,342.5 C319.3,345.83 319.77,347.42 320.6,350 C321.43,352.58 323.03,355.67 324,358 C324.97,360.33 325.93,362.17 326.4,364 C326.87,365.83 327.1,367.57 326.8,369 C326.5,370.43 325.63,371.77 324.6,372.6 C323.57,373.43 322.1,373.87 320.6,374 C319.1,374.13 317.13,373.73 315.6,373.4 C314.07,373.07 312.57,372.8 311.4,372 C310.23,371.2 309.37,369.93 308.6,368.6 C307.83,367.27 307.25,365.77 306.8,364 C306.35,362.23 306.1,360.33 305.9,358 C305.7,355.67 305.68,352.58 305.6,350 C305.52,347.42 305.42,345.83 305.4,342.5 C305.38,339.17 305.4,334.17 305.5,330 C305.6,325.83 305.68,321.67 306,317.5 C306.32,313.33 306.83,308.58 307.4,305 C307.97,301.42 308.8,298.5 309.4,296 C310,293.5 310.37,292.5 311,290 C311.63,287.5 312.4,284.35 313.2,281 C314,277.65 315.37,271.75 315.8,269.9 Z" />
<path class="n" d="M317.8,270.4 C317.37,272.25 316,278.23 315.2,281.5 C314.4,284.77 313.68,287.58 313,290 C312.32,292.42 311.77,293.5 311.14,296 C310.5,298.5 309.76,301.42 309.21,305 C308.65,308.58 308.13,313.33 307.82,317.5 C307.51,321.67 307.45,325.83 307.36,330 C307.28,334.17 307.25,339.17 307.3,342.5 C307.36,345.83 307.51,347.42 307.7,350 C307.89,352.58 308.31,356.67 308.43,358" style="stroke-width:1"/>
<path class="n" d="M319.8,292 C318.85,292.67 315.36,293.83 314.11,296 C312.86,298.17 312.83,301.42 312.3,305 C311.77,308.58 311.23,313.33 310.94,317.5 C310.65,321.67 310.62,325.83 310.55,330 C310.49,334.17 310.44,339.17 310.57,342.5 C310.69,345.83 310.93,347.42 311.3,350 C311.67,352.58 312.56,355.33 312.78,358 C312.99,360.67 312.63,364.67 312.6,366" />
<path class="n" d="M315.97,296 C315.68,297.5 314.75,301.42 314.24,305 C313.72,308.58 313.17,313.33 312.89,317.5 C312.61,321.67 312.6,325.83 312.55,330 C312.5,334.17 312.44,339.17 312.61,342.5 C312.77,345.83 313.39,348.75 313.55,350" style="stroke-width:1"/>
<path class="n" d="M321.4,293.8 C320.72,294.17 318.29,294.13 317.34,296 C316.38,297.87 316.16,301.42 315.66,305 C315.15,308.58 314.59,313.33 314.32,317.5 C314.05,321.67 314.05,325.83 314.01,330 C313.98,334.17 313.91,339.17 314.1,342.5 C314.3,345.83 314.55,346.83 315.2,350 C315.85,353.17 317.53,359.58 318,361.5" />
<path class="n" d="M310.49,299.4 L313.51,298.6" style="stroke-width:1.3"/>
<path class="n" d="M309.53,303.9 L312.6,303.1" style="stroke-width:1.3"/>
<path class="n" d="M308.43,312.4 L311.54,311.6" style="stroke-width:1.3"/>
<path class="n" d="M307.99,316.4 L311.1,315.6" style="stroke-width:1.3"/>
<path class="n" d="M307.55,325.4 L310.71,324.6" style="stroke-width:1.3"/>
<path class="n" d="M307.4,329.4 L310.58,328.6" style="stroke-width:1.3"/>
<path class="n" d="M307.32,338.4 L310.56,337.6" style="stroke-width:1.3"/>
<path class="n" d="M307.31,342.4 L310.57,341.6" style="stroke-width:1.3"/>
<path class="n" d="M307.79,351.4 L311.48,350.6" style="stroke-width:1.3"/>
<path class="n" d="M308.16,355.4 L312.22,354.6" style="stroke-width:1.3"/>
<path class="n" d="M322.5,265.2 L322.5,286.5 L319.6,291.6 M325.4,266 L325.6,288.4 L323.4,294.6 M322.5,286.5 L327,292.2" />
<path class="n" d="M317.2,272 L321.4,271.6 L320.6,278.4 L316,278.8 Z" />
<path class="n" d="M315.6,281.6 L320.2,281.2 L319.2,288.2 L314,288.8 Z" />
<path class="n" d="M317.4,290 L321,292.6" />
<ellipse class="p" cx="320.8" cy="368.2" rx="5.2" ry="5.2" />
<ellipse class="n" cx="321" cy="368.4" rx="2.5" ry="2.5" />
<path class="n" d="M309.4,362 L313.4,364.4 L314.2,369.8" style="stroke-width:1"/>
<path class="c1" d="M256,198 C255.4,197.93 253.33,197.33 252.4,197.6 C251.47,197.87 250.77,198.7 250.4,199.6 C250.03,200.5 250.17,200.85 250.2,203 C250.23,205.15 249.55,206.33 250.6,212.5 C251.65,218.67 254.3,231.25 256.5,240 C258.7,248.75 261.55,257.5 263.8,265 C266.05,272.5 268.42,279.17 270,285 C271.58,290.83 272.7,292.5 273.3,300 C273.9,307.5 273.68,320.33 273.6,330 C273.52,339.67 272.65,351.33 272.8,358 C272.95,364.67 272.88,366.87 274.5,370 C276.12,373.13 279.98,376.63 282.5,376.8 C285.02,376.97 288.32,374.13 289.6,371 C290.88,367.87 290.27,362.33 290.2,358 C290.13,353.67 289.5,349.42 289.2,345 C288.9,340.58 288.23,337.55 288.4,331.5 C288.57,325.45 289.2,314.78 290.2,308.7 C291.2,302.62 292.9,299.58 294.4,295 C295.9,290.42 297.37,285.78 299.2,281.2 C301.03,276.62 303.27,272.08 305.4,267.5 C307.53,262.92 310.53,256.87 312,253.7 C313.47,250.53 313.63,250.03 314.2,248.5 C314.77,246.97 315.2,245.17 315.4,244.5" style="stroke-width:6.0"/>
<path class="c2" d="M256,198 C255.4,197.93 253.33,197.33 252.4,197.6 C251.47,197.87 250.77,198.7 250.4,199.6 C250.03,200.5 250.17,200.85 250.2,203 C250.23,205.15 249.55,206.33 250.6,212.5 C251.65,218.67 254.3,231.25 256.5,240 C258.7,248.75 261.55,257.5 263.8,265 C266.05,272.5 268.42,279.17 270,285 C271.58,290.83 272.7,292.5 273.3,300 C273.9,307.5 273.68,320.33 273.6,330 C273.52,339.67 272.65,351.33 272.8,358 C272.95,364.67 272.88,366.87 274.5,370 C276.12,373.13 279.98,376.63 282.5,376.8 C285.02,376.97 288.32,374.13 289.6,371 C290.88,367.87 290.27,362.33 290.2,358 C290.13,353.67 289.5,349.42 289.2,345 C288.9,340.58 288.23,337.55 288.4,331.5 C288.57,325.45 289.2,314.78 290.2,308.7 C291.2,302.62 292.9,299.58 294.4,295 C295.9,290.42 297.37,285.78 299.2,281.2 C301.03,276.62 303.27,272.08 305.4,267.5 C307.53,262.92 310.53,256.87 312,253.7 C313.47,250.53 313.63,250.03 314.2,248.5 C314.77,246.97 315.2,245.17 315.4,244.5" style="stroke-width:3.20"/>
<path class="c3" d="M256,198 C255.4,197.93 253.33,197.33 252.4,197.6 C251.47,197.87 250.77,198.7 250.4,199.6 C250.03,200.5 250.17,200.85 250.2,203 C250.23,205.15 249.55,206.33 250.6,212.5 C251.65,218.67 254.3,231.25 256.5,240 C258.7,248.75 261.55,257.5 263.8,265 C266.05,272.5 268.42,279.17 270,285 C271.58,290.83 272.7,292.5 273.3,300 C273.9,307.5 273.68,320.33 273.6,330 C273.52,339.67 272.65,351.33 272.8,358 C272.95,364.67 272.88,366.87 274.5,370 C276.12,373.13 279.98,376.63 282.5,376.8 C285.02,376.97 288.32,374.13 289.6,371 C290.88,367.87 290.27,362.33 290.2,358 C290.13,353.67 289.5,349.42 289.2,345 C288.9,340.58 288.23,337.55 288.4,331.5 C288.57,325.45 289.2,314.78 290.2,308.7 C291.2,302.62 292.9,299.58 294.4,295 C295.9,290.42 297.37,285.78 299.2,281.2 C301.03,276.62 303.27,272.08 305.4,267.5 C307.53,262.92 310.53,256.87 312,253.7 C313.47,250.53 313.63,250.03 314.2,248.5 C314.77,246.97 315.2,245.17 315.4,244.5" />
<path class="c1" d="M315.8,246.5 C315.73,245.42 315.87,241.95 315.4,240 C314.93,238.05 314.77,237.33 313,234.8 C311.23,232.27 308.63,228 304.8,224.8 C300.97,221.6 295.53,218.87 290,215.6 C284.47,212.33 276.6,207.87 271.6,205.2 C266.6,202.53 262.83,200.87 260,199.6 C257.17,198.33 255.5,197.93 254.6,197.6" style="stroke-width:5.6"/>
<path class="c4" d="M316.73,245.72h.01M315.56,244.18h.01M314.67,242.68h.01M315.83,241.05h.01M316.22,239.34h.01M314.68,238.14h.01M313.3,237.2h.01M313.59,235.22h.01M313.29,233.55h.01M311.47,232.91h.01M309.9,232.13h.01M310.04,230.12h.01M309.63,228.45h.01M307.75,227.99h.01M306.09,227.45h.01M305.91,225.45h.01M305.18,223.88h.01M303.23,223.82h.01M301.49,223.63h.01M300.93,221.7h.01M299.97,220.28h.01M298.05,220.46h.01M296.29,220.42h.01M295.59,218.52h.01M294.59,217.15h.01M292.67,217.38h.01M290.9,217.34h.01M290.22,215.44h.01M289.23,214.05h.01M287.31,214.26h.01M285.55,214.22h.01M284.86,212.32h.01M283.86,210.94h.01M281.94,211.17h.01M280.18,211.14h.01M279.47,209.25h.01M278.46,207.88h.01M276.54,208.13h.01M274.78,208.12h.01M274.04,206.24h.01M273.01,204.88h.01M271.1,205.16h.01M269.34,205.2h.01M268.55,203.34h.01M267.47,202.02h.01M265.57,202.37h.01M263.81,202.48h.01M262.95,200.65h.01M261.83,199.38h.01M259.94,199.79h.01M258.2,199.98h.01M257.23,198.21h.01M255.97,197.05h.01" />
<path class="c1" d="M339,322.5 C338.37,322.58 335.93,322.17 335.2,323 C334.47,323.83 333.97,323.83 334.6,327.5 C335.23,331.17 337.1,338.75 339,345 C340.9,351.25 343.58,358.67 346,365 C348.42,371.33 351.33,378.75 353.5,383 C355.67,387.25 356.75,388.9 359,390.5 C361.25,392.1 364.6,392.72 367,392.6 C369.4,392.48 372.03,391.57 373.4,389.8 C374.77,388.03 375.77,384.88 375.2,382 C374.63,379.12 372.1,375.83 370,372.5 C367.9,369.17 363.83,363.75 362.6,362" style="stroke-width:5.8"/>
<path class="c2" d="M339,322.5 C338.37,322.58 335.93,322.17 335.2,323 C334.47,323.83 333.97,323.83 334.6,327.5 C335.23,331.17 337.1,338.75 339,345 C340.9,351.25 343.58,358.67 346,365 C348.42,371.33 351.33,378.75 353.5,383 C355.67,387.25 356.75,388.9 359,390.5 C361.25,392.1 364.6,392.72 367,392.6 C369.4,392.48 372.03,391.57 373.4,389.8 C374.77,388.03 375.77,384.88 375.2,382 C374.63,379.12 372.1,375.83 370,372.5 C367.9,369.17 363.83,363.75 362.6,362" style="stroke-width:3.00"/>
<path class="c3" d="M339,322.5 C338.37,322.58 335.93,322.17 335.2,323 C334.47,323.83 333.97,323.83 334.6,327.5 C335.23,331.17 337.1,338.75 339,345 C340.9,351.25 343.58,358.67 346,365 C348.42,371.33 351.33,378.75 353.5,383 C355.67,387.25 356.75,388.9 359,390.5 C361.25,392.1 364.6,392.72 367,392.6 C369.4,392.48 372.03,391.57 373.4,389.8 C374.77,388.03 375.77,384.88 375.2,382 C374.63,379.12 372.1,375.83 370,372.5 C367.9,369.17 363.83,363.75 362.6,362" />
<path class="c1" d="M363,362.8 C362.1,360.83 359.53,355.2 357.6,351 C355.67,346.8 353.47,341.6 351.4,337.6 C349.33,333.6 347.02,329.53 345.2,327 C343.38,324.47 341.87,323.2 340.5,322.4 C339.13,321.6 337.58,322.23 337,322.2" style="stroke-width:5.5"/>
<path class="c4" d="M363.54,361.7h.01M361.85,360.77h.01M360.43,359.71h.01M360.97,357.76h.01M360.97,356.06h.01M359.27,355.13h.01M357.86,354.07h.01M358.39,352.12h.01M358.38,350.42h.01M356.69,349.49h.01M355.28,348.42h.01M355.84,346.48h.01M355.84,344.78h.01M354.15,343.84h.01M352.74,342.78h.01M353.26,340.83h.01M353.22,339.13h.01M351.5,338.24h.01M350.04,337.26h.01M350.46,335.29h.01M350.33,333.59h.01M348.57,332.79h.01M347.07,331.88h.01M347.39,329.89h.01M347.15,328.19h.01M345.33,327.53h.01M343.75,326.81h.01M343.77,324.81h.01M343.13,323.17h.01M341.17,323.07h.01M339.62,323.15h.01M338.38,321.77h.01" />
<g transform="translate(235.6,236.5) rotate(-31.12)">
<path class="p" d="M2.4,-1.25 L12.38,-1.25 A0.62,1.25 0 0 1 12.38,1.25 L2.4,1.25 A0.62,1.25 0 0 1 2.4,-1.25 Z"/>
<ellipse class="p" cx="2.4" cy="0" rx="0.62" ry="1.25"/>
<path class="n" d="M6.81,-1.25 L7.51,1.25" style="stroke-width:.9"/>
<path class="n" d="M8.11,-1.25 L8.81,1.25" style="stroke-width:.9"/>
<path class="n" d="M9.41,-1.25 L10.11,1.25" style="stroke-width:.9"/>
<path class="n" d="M10.71,-1.25 L11.41,1.25" style="stroke-width:.9"/>
<path class="n" d="M12.01,-1.25 L12.71,1.25" style="stroke-width:.9"/>
<path class="p" d="M1.6,-3 L2.5,-3 A1.5,3 0 0 1 2.5,3 L1.6,3 A1.5,3 0 0 1 1.6,-3 Z"/>
<ellipse class="p" cx="1.6" cy="0" rx="1.5" ry="3"/>
<path class="p" d="M-0.8,-2.45 L1.6,-2.45 A1.23,2.45 0 0 1 1.6,2.45 L-0.8,2.45 A1.23,2.45 0 0 1 -0.8,-2.45 Z"/>
<ellipse class="p" cx="-0.8" cy="0" rx="1.23" ry="2.45"/>
<path class="n" d="M-1.2,-1.2 L1.4,-1.2 M-1.2,1.3 L1.4,1.3" style="stroke-width:.7"/>
</g>
<g transform="translate(223.8,281) rotate(-25.87)">
<path class="p" d="M2.4,-1.25 L14.67,-1.25 A0.62,1.25 0 0 1 14.67,1.25 L2.4,1.25 A0.62,1.25 0 0 1 2.4,-1.25 Z"/>
<ellipse class="p" cx="2.4" cy="0" rx="0.62" ry="1.25"/>
<path class="n" d="M8.07,-1.25 L8.77,1.25" style="stroke-width:.9"/>
<path class="n" d="M9.37,-1.25 L10.07,1.25" style="stroke-width:.9"/>
<path class="n" d="M10.67,-1.25 L11.37,1.25" style="stroke-width:.9"/>
<path class="n" d="M11.97,-1.25 L12.67,1.25" style="stroke-width:.9"/>
<path class="n" d="M13.27,-1.25 L13.97,1.25" style="stroke-width:.9"/>
<path class="p" d="M1.6,-3 L2.5,-3 A1.5,3 0 0 1 2.5,3 L1.6,3 A1.5,3 0 0 1 1.6,-3 Z"/>
<ellipse class="p" cx="1.6" cy="0" rx="1.5" ry="3"/>
<path class="p" d="M-0.8,-2.45 L1.6,-2.45 A1.23,2.45 0 0 1 1.6,2.45 L-0.8,2.45 A1.23,2.45 0 0 1 -0.8,-2.45 Z"/>
<ellipse class="p" cx="-0.8" cy="0" rx="1.23" ry="2.45"/>
<path class="n" d="M-1.2,-1.2 L1.4,-1.2 M-1.2,1.3 L1.4,1.3" style="stroke-width:.7"/>
</g>
<g transform="translate(172.3,315.3) rotate(-26.73)">
<path class="p" d="M2.4,-1.25 L15.34,-1.25 A0.62,1.25 0 0 1 15.34,1.25 L2.4,1.25 A0.62,1.25 0 0 1 2.4,-1.25 Z"/>
<ellipse class="p" cx="2.4" cy="0" rx="0.62" ry="1.25"/>
<path class="n" d="M8.44,-1.25 L9.14,1.25" style="stroke-width:.9"/>
<path class="n" d="M9.74,-1.25 L10.44,1.25" style="stroke-width:.9"/>
<path class="n" d="M11.04,-1.25 L11.74,1.25" style="stroke-width:.9"/>
<path class="n" d="M12.34,-1.25 L13.04,1.25" style="stroke-width:.9"/>
<path class="n" d="M13.64,-1.25 L14.34,1.25" style="stroke-width:.9"/>
<path class="n" d="M14.94,-1.25 L15.64,1.25" style="stroke-width:.9"/>
<path class="p" d="M1.6,-3 L2.5,-3 A1.5,3 0 0 1 2.5,3 L1.6,3 A1.5,3 0 0 1 1.6,-3 Z"/>
<ellipse class="p" cx="1.6" cy="0" rx="1.5" ry="3"/>
<path class="p" d="M-0.8,-2.45 L1.6,-2.45 A1.23,2.45 0 0 1 1.6,2.45 L-0.8,2.45 A1.23,2.45 0 0 1 -0.8,-2.45 Z"/>
<ellipse class="p" cx="-0.8" cy="0" rx="1.23" ry="2.45"/>
<path class="n" d="M-1.2,-1.2 L1.4,-1.2 M-1.2,1.3 L1.4,1.3" style="stroke-width:.7"/>
</g>
<g transform="translate(215.5,349) rotate(-24.67)">
<path class="p" d="M2.4,-1.25 L14.86,-1.25 A0.62,1.25 0 0 1 14.86,1.25 L2.4,1.25 A0.62,1.25 0 0 1 2.4,-1.25 Z"/>
<ellipse class="p" cx="2.4" cy="0" rx="0.62" ry="1.25"/>
<path class="n" d="M8.17,-1.25 L8.87,1.25" style="stroke-width:.9"/>
<path class="n" d="M9.47,-1.25 L10.17,1.25" style="stroke-width:.9"/>
<path class="n" d="M10.77,-1.25 L11.47,1.25" style="stroke-width:.9"/>
<path class="n" d="M12.07,-1.25 L12.77,1.25" style="stroke-width:.9"/>
<path class="n" d="M13.37,-1.25 L14.07,1.25" style="stroke-width:.9"/>
<path class="p" d="M1.6,-3 L2.5,-3 A1.5,3 0 0 1 2.5,3 L1.6,3 A1.5,3 0 0 1 1.6,-3 Z"/>
<ellipse class="p" cx="1.6" cy="0" rx="1.5" ry="3"/>
<path class="p" d="M-0.8,-2.45 L1.6,-2.45 A1.23,2.45 0 0 1 1.6,2.45 L-0.8,2.45 A1.23,2.45 0 0 1 -0.8,-2.45 Z"/>
<ellipse class="p" cx="-0.8" cy="0" rx="1.23" ry="2.45"/>
<path class="n" d="M-1.2,-1.2 L1.4,-1.2 M-1.2,1.3 L1.4,1.3" style="stroke-width:.7"/>
</g>
<g transform="translate(201.8,300.8) rotate(-27)">
<path class="p" d="M3,-5.6 L19,-5.6 A3.2,5.6 0 0 1 19,5.6 L3,5.6 A5.2,5.6 0 0 1 3,-5.6 Z" />
</g>
<path class="p" d="M205.6,296.6 C205.2,290.6 208.4,287.6 212.4,287 C216.6,286.6 219.2,289 219,293.4 L218.8,298.2 L213.2,301.6 L207.4,301 Z" />
<ellipse class="p" cx="209.6" cy="293.8" rx="2.5" ry="3.2" transform="rotate(-20 209.6 293.8)"/>
<ellipse class="n" cx="210" cy="294.2" rx="1.3" ry="1.8" transform="rotate(-20 210 294.2)"/>
<path class="p" d="M211.6,300.6 L219.4,297.2 L225.2,300 L225.4,314.6 L223.6,319.4 L218.6,321.4 L213.4,320 L211.6,315.4 Z" />
<path class="n" d="M219.4,297.2 L219.6,313 L225.4,314.6 M219.6,313 L213.6,315.8 L211.6,313.6 M213.6,315.8 L213.6,320" />
<path class="n" d="M221.4,301.6 L221.6,311.4 M223.4,302.4 L223.6,309.4" style="stroke-width:.9"/>
<ellipse class="n" cx="221.6" cy="315.4" rx="1.6" ry="2.2" />
<path class="k" d="M213.4,303 L217.4,301.2 L217.6,306.6 L213.6,308.2 Z" />
<g transform="translate(199.8,312.6) rotate(-23.61)">
<path class="p" d="M2.4,-1.25 L13.5,-1.25 A0.62,1.25 0 0 1 13.5,1.25 L2.4,1.25 A0.62,1.25 0 0 1 2.4,-1.25 Z"/>
<ellipse class="p" cx="2.4" cy="0" rx="0.62" ry="1.25"/>
<path class="n" d="M9.06,-1.25 L9.76,1.25" style="stroke-width:.9"/>
<path class="n" d="M10.36,-1.25 L11.06,1.25" style="stroke-width:.9"/>
<path class="n" d="M11.66,-1.25 L12.36,1.25" style="stroke-width:.9"/>
<path class="n" d="M12.96,-1.25 L13.66,1.25" style="stroke-width:.9"/>
<path class="p" d="M1.6,-3 L2.5,-3 A1.5,3 0 0 1 2.5,3 L1.6,3 A1.5,3 0 0 1 1.6,-3 Z"/>
<ellipse class="p" cx="1.6" cy="0" rx="1.5" ry="3"/>
<path class="p" d="M-0.8,-2.45 L1.6,-2.45 A1.23,2.45 0 0 1 1.6,2.45 L-0.8,2.45 A1.23,2.45 0 0 1 -0.8,-2.45 Z"/>
<ellipse class="p" cx="-0.8" cy="0" rx="1.23" ry="2.45"/>
<path class="n" d="M-1.2,-1.2 L1.4,-1.2 M-1.2,1.3 L1.4,1.3" style="stroke-width:.7"/>
</g>
<path class="p" d="M318.7,377.6 C317.42,377.72 315.65,378.65 314.4,379.4 C313.15,380.15 312.17,380.73 311.2,382.1 C310.23,383.47 308.9,385.78 308.6,387.6 C308.3,389.42 308.97,391.28 309.4,393 C309.83,394.72 310.5,396.23 311.2,397.9 C311.9,399.57 312.7,401.4 313.6,403 C314.5,404.6 315.5,406 316.6,407.5 C317.7,409 318.93,410.65 320.2,412 C321.47,413.35 322.97,415.2 324.2,415.6 C325.43,416 326.57,414.98 327.6,414.4 C328.63,413.82 330.23,413.13 330.4,412.1 C330.57,411.07 329.1,409.42 328.6,408.2 C328.1,406.98 327.7,406.52 327.4,404.8 C327.1,403.08 326.77,399.7 326.8,397.9 C326.83,396.1 327.37,395.22 327.6,394 C327.83,392.78 328.27,391.77 328.2,390.6 C328.13,389.43 327.63,388.07 327.2,387 C326.77,385.93 326.13,385.2 325.6,384.2 C325.07,383.2 324.58,381.92 324,381 C323.42,380.08 322.98,379.27 322.1,378.7 C321.22,378.13 319.98,377.48 318.7,377.6 Z" />
<path class="n" d="M321,379.4 C321.27,380.07 322.17,382.1 322.6,383.4 C323.03,384.7 323.57,385.9 323.6,387.2 C323.63,388.5 323.13,389.83 322.8,391.2 C322.47,392.57 321.73,393.87 321.6,395.4 C321.47,396.93 321.77,398.8 322,400.4 C322.23,402 322.5,403.47 323,405 C323.5,406.53 324.3,408.17 325,409.6 C325.7,411.03 326.83,412.93 327.2,413.6" />
<ellipse class="n" cx="317.3" cy="387.6" rx="1.9" ry="2.2" />
<ellipse class="k" cx="317.5" cy="387.8" rx="0.8" ry="1" />
<path class="n" d="M324.6,381 L333.8,376.7" style="stroke-width:2.8;stroke-dasharray:1.3 .7;stroke-linecap:butt"/>
<g transform="translate(337.9,391.8) rotate(-29.5)">
<path class="p" d="M5.01,0.8 L3.18,4.32 L0.37,3.52 L-0.61,-0.8 L1.22,-4.32 L4.03,-3.52 Z" />
<path class="p" d="M2.81,0.8 L0.98,4.32 L-1.83,3.52 L-2.81,-0.8 L-0.98,-4.32 L1.83,-3.52 Z" style="stroke-width:1.4"/>
<ellipse class="n" cx="0" cy="0" rx="1.7" ry="2.7" />
</g>
<g transform="translate(290.8,402.3) rotate(-28)">
<path class="p" d="M-4.98,-2.7 L5.25,-2.7 A1.35,2.7 0 0 1 5.25,2.7 L-4.98,2.7 A1.62,2.7 0 0 1 -4.98,-2.7 Z" />
<ellipse class="n" cx="-4.98" cy="0" rx="1.35" ry="2.7" />
</g>
<g transform="translate(365.6,290.8) rotate(-29)">
<path class="p" d="M-6.81,-2.4 L7.05,-2.4 A1.2,2.4 0 0 1 7.05,2.4 L-6.81,2.4 A1.44,2.4 0 0 1 -6.81,-2.4 Z" />
<ellipse class="n" cx="-6.81" cy="0" rx="1.2" ry="2.4" />
</g>
<path class="k" d="M363.2,290.6 L365.4,291.6 L365.6,289.4 Z" />
<g transform="translate(324.3,146.3) rotate(-27)">
<path class="p" d="M-2.04,-1.6 L2.2,-1.6 A0.8,1.6 0 0 1 2.2,1.6 L-2.04,1.6 A0.96,1.6 0 0 1 -2.04,-1.6 Z" />
<ellipse class="n" cx="-2.04" cy="0" rx="0.8" ry="1.6" />
</g>
<g transform="translate(389.5,182.2) rotate(-27)">
<path class="p" d="M-3.28,-1.7 L3.45,-1.7 A0.85,1.7 0 0 1 3.45,1.7 L-3.28,1.7 A1.02,1.7 0 0 1 -3.28,-1.7 Z" />
<ellipse class="n" cx="-3.28" cy="0" rx="0.85" ry="1.7" />
</g>
<g transform="translate(571.2,206.6) skewY(-11)">
<path class="p" d="M-8.6,0 L-8.1,8.8 A8.6,4.3 0 0 0 9.1,8.8 L8.6,0 Z" />
<ellipse class="p" cx="0" cy="0" rx="8.6" ry="4.3" />
</g>
<ellipse class="p" cx="574" cy="225.2" rx="2.5" ry="2.4" style="stroke-width:1.4"/>
<path class="n" d="M572.4,223.8 L575.4,226.8 M574.4,223 L573.6,227.4 M571.8,225.6 L576.2,224.6" style="stroke-width:.9"/>
<g transform="translate(575.8,234.6) rotate(-8)">
<path class="p" d="M-4.34,1.8 L-3.5,4.14 A3.5,1.62 0 0 0 3.5,4.14 L4.34,1.8 Z" />
<path class="n" d="M-3.92,3.06 A3.92,1.62 0 0 0 3.92,3.06" />
<ellipse class="p" cx="0" cy="0" rx="7" ry="3.6" />
<ellipse class="n" cx="0" cy="0.5" rx="7" ry="3.6" />
<ellipse class="n" cx="0.2" cy="-0.2" rx="4.34" ry="2.16" />
<ellipse class="n" cx="0.3" cy="-0.1" rx="2.38" ry="1.15" />
</g>
<ellipse class="p" cx="579.6" cy="260.4" rx="7.3" ry="3.3" transform="rotate(-8 579.6 260.4)"/>
<ellipse class="p" cx="579.15" cy="256.9" rx="7.3" ry="3.3" transform="rotate(-8 579.15 256.9)"/>
<ellipse class="p" cx="578.7" cy="253.4" rx="7.3" ry="3.3" transform="rotate(-8 578.7 253.4)"/>
<ellipse class="p" cx="578.25" cy="249.9" rx="7.3" ry="3.3" transform="rotate(-8 578.25 249.9)"/>
<ellipse class="p" cx="577.8" cy="246.4" rx="7.3" ry="3.3" transform="rotate(-8 577.8 246.4)"/>
<ellipse class="n" cx="577.8" cy="246.8" rx="5.5" ry="2" transform="rotate(-8 577.8 246.4)"/>
<g transform="translate(581.6,272.2) rotate(-4)">
<path class="p" d="M-3.4,-1.4 L-3.6,2.6 A3.6,1.9 0 0 0 3.6,2.6 L3.4,-1.4 Z" />
<ellipse class="p" cx="0" cy="-1.6" rx="3.3" ry="2" />
<ellipse class="n" cx="0" cy="-1.9" rx="1.8" ry="1" />
<path class="n" d="M-3.6,1.2 A3.6,1.9 0 0 0 3.6,1.2" style="stroke-width:.8"/>
</g>
<g transform="translate(584.1,283.7) rotate(-12)">
<ellipse class="p" cx="0" cy="0" rx="7.2" ry="3.4" style="stroke-width:1.5"/>
<ellipse class="p" cx="0" cy="0" rx="5.3" ry="1.9" style="stroke-width:1.1"/>
</g>
<g transform="translate(592.63,338.55) rotate(-10)">
<ellipse class="p" cx="0" cy="0.6" rx="8.6" ry="4.4" />
<ellipse class="p" cx="0" cy="0" rx="8.6" ry="4.4" />
<ellipse class="n" cx="0" cy="-0.4" rx="5.33" ry="2.64" />
</g>
<path class="p" d="M583.42,292.49 L590.04,334.91 L593.96,334.29 L586.98,291.91 Z" />
<ellipse class="p" cx="585.2" cy="292.2" rx="1.9" ry="0.9" />
<path class="n" d="M590.04,334.91 Q589.16,336.6 587.73,337.8 M593.96,334.29 Q594.84,336.6 596.27,337.8" />
<g transform="translate(643.2,224.2) skewY(9)">
<path class="p" d="M-9.3,0 L-10.7,7.4 A9.3,5.4 0 0 0 7.9,7.4 L9.3,0 Z" />
<ellipse class="p" cx="0" cy="0" rx="9.3" ry="5.4" />
</g>
<ellipse class="p" cx="639.4" cy="242.6" rx="2.5" ry="2.4" style="stroke-width:1.4"/>
<path class="n" d="M637.8,241.2 L640.8,244.2 M639.8,240.4 L639,244.8 M637.2,243 L641.6,242" style="stroke-width:.9"/>
<g transform="translate(637.3,252.6) rotate(10)">
<path class="p" d="M-4.34,2.2 L-3.5,5.06 A3.5,1.98 0 0 0 3.5,5.06 L4.34,2.2 Z" />
<path class="n" d="M-3.92,3.74 A3.92,1.98 0 0 0 3.92,3.74" />
<ellipse class="p" cx="0" cy="0" rx="7" ry="4.4" />
<ellipse class="n" cx="0" cy="0.5" rx="7" ry="4.4" />
<ellipse class="n" cx="0.2" cy="-0.2" rx="4.34" ry="2.64" />
<ellipse class="n" cx="0.3" cy="-0.1" rx="2.38" ry="1.41" />
</g>
<ellipse class="p" cx="631.4" cy="279.8" rx="7.6" ry="3.6" transform="rotate(14 631.4 279.8)"/>
<ellipse class="p" cx="632.15" cy="276.65" rx="7.6" ry="3.6" transform="rotate(14 632.15 276.65)"/>
<ellipse class="p" cx="632.9" cy="273.5" rx="7.6" ry="3.6" transform="rotate(14 632.9 273.5)"/>
<ellipse class="p" cx="633.65" cy="270.35" rx="7.6" ry="3.6" transform="rotate(14 633.65 270.35)"/>
<ellipse class="p" cx="634.4" cy="267.2" rx="7.6" ry="3.6" transform="rotate(14 634.4 267.2)"/>
<ellipse class="n" cx="634.4" cy="267.6" rx="5.8" ry="2.3" transform="rotate(14 634.4 267.2)"/>
<g transform="translate(629,290.4) rotate(8)">
<path class="p" d="M-3.4,-1.4 L-3.6,2.6 A3.6,1.9 0 0 0 3.6,2.6 L3.4,-1.4 Z" />
<ellipse class="p" cx="0" cy="-1.6" rx="3.3" ry="2" />
<ellipse class="n" cx="0" cy="-1.9" rx="1.8" ry="1" />
<path class="n" d="M-3.6,1.2 A3.6,1.9 0 0 0 3.6,1.2" style="stroke-width:.8"/>
</g>
<g transform="translate(626.8,301.5) rotate(12)">
<ellipse class="p" cx="0" cy="0" rx="6.9" ry="4.9" style="stroke-width:1.5"/>
<ellipse class="p" cx="0" cy="0" rx="5" ry="3.4" style="stroke-width:1.1"/>
</g>
<g transform="translate(616.46,347.91) rotate(6)">
<ellipse class="p" cx="0" cy="0.6" rx="9.2" ry="5.6" />
<ellipse class="p" cx="0" cy="0" rx="9.2" ry="5.6" />
<ellipse class="n" cx="0" cy="-0.4" rx="5.7" ry="3.36" />
</g>
<path class="p" d="M622.74,310.02 L615.36,343.59 L619.24,344.41 L626.26,310.78 Z" />
<ellipse class="p" cx="624.5" cy="310.4" rx="1.9" ry="0.9" />
<path class="n" d="M615.36,343.59 Q614.48,346 613.08,347.2 M619.24,344.41 Q620.12,346 621.52,347.2" />
<polyline points="543,396.6 549.6,400.4 553.4,396.8 562.2,412.4 545.4,412.4 546.8,408 540.2,404.2" fill="none" stroke="#111" stroke-width="1.7" stroke-linejoin="miter"/>
<polyline class="ds" points="291.00,170.00 272.00,180.50 302.50,196.50 289.00,204.50" />
<polyline class="ds" points="246.00,230.00 276.00,212.50" />
<polyline class="ds" points="353.00,208.00 238.50,274.00" />
<polyline class="ds" points="226.00,314.00 245.00,324.00" />
<polyline class="ds" points="187.00,308.50 199.50,301.50" />
<polyline class="ds" points="230.00,341.50 310.00,298.50" />
<polyline class="ds" points="321.00,315.00 359.00,294.00" />
<polyline class="ds" points="292.50,358.00 366.00,313.50" />
<polyline class="ds" points="298.40,398.60 315.60,388.80" />
<polyline class="ds" points="344.00,392.00 390.00,365.50" />
<polyline class="ds" points="327.50,145.00 337.00,140.50" />
<polyline class="ds" points="394.00,180.00 402.00,176.00" />
<polyline class="ld" points="361.50,58.00 361.50,72.50" />
<polyline class="ld" points="324.50,93.00 324.50,72.50 398.00,72.50 398.00,98.50" />
<polyline class="ld" points="324.50,108.00 324.50,143.00" />
<polyline class="ld" points="279.50,124.00 279.50,135.00 291.00,149.00" />
<polyline class="ld" points="223.50,207.50 247.00,207.50" />
<polyline class="ld" points="212.00,223.00 226.50,223.00 236.00,232.00" />
<polyline class="ld" points="212.00,240.00 227.00,240.00 240.00,252.00" />
<polyline class="ld" points="202.50,265.50 217.00,265.50 227.50,276.50" />
<polyline class="ld" points="177.00,283.50 191.50,283.50 204.00,296.00" />
<polyline class="ld" points="154.00,314.50 169.00,314.50" />
<polyline class="ld" points="198.00,348.50 212.00,348.50" />
<polyline class="ld" points="270.00,387.00 309.00,387.00" />
<polyline class="ld" points="246.00,404.60 284.60,404.60" />
<polyline class="ld" points="340.60,395.90 355.40,411.20 365.00,411.20" />
<polyline class="ld" points="374.50,390.00 384.00,398.75 393.50,398.75" />
<polyline class="ld" points="368.50,225.00 368.50,243.00" />
<polyline class="ld" points="392.50,184.00 415.50,206.00 415.50,212.00" />
<polyline class="ld" points="415.50,224.00 415.50,231.50 473.00,231.50 473.00,149.00" />
<polyline class="ld" points="444.00,231.50 444.00,244.00" />
<polyline class="ld" points="330.00,270.50 353.00,270.50" />
<polyline class="ld" points="372.50,286.50 397.00,286.50" />
<polyline class="ld" points="390.00,307.00 410.00,307.00" />
<polyline class="ld" points="406.00,362.00 431.00,362.00" />
<polyline class="ld" points="547.00,213.00 562.40,213.00" />
<polyline class="ld" points="550.00,225.70 571.00,225.70" />
<polyline class="ld" points="553.00,236.50 568.70,236.50" />
<polyline class="ld" points="556.00,253.70 571.50,253.70" />
<polyline class="ld" points="559.00,272.70 578.20,272.70" />
<polyline class="ld" points="561.50,284.20 577.50,284.20" />
<polyline class="ld" points="566.00,314.50 586.50,314.50" />
<polyline class="ld" points="652.30,227.10 667.00,227.10" />
<polyline class="ld" points="642.80,242.60 662.40,242.60" />
<polyline class="ld" points="644.20,255.00 659.70,255.00" />
<polyline class="ld" points="640.00,274.90 653.50,274.90" />
<polyline class="ld" points="632.80,291.40 649.40,291.40" />
<polyline class="ld" points="633.80,303.30 646.00,303.30" />
<polyline class="ld" points="621.80,334.40 639.50,334.40" />
<g class="lb" filter="url(#nf)">
<text x="337.20" y="55.55" textLength="47.30" lengthAdjust="spacing">13020+A</text>
<text x="302.70" y="104.55" textLength="43.80" lengthAdjust="spacing">13001AA</text>
<text x="264.70" y="121.05" textLength="31.80" lengthAdjust="spacing">13024</text>
<text x="188.45" y="211.55" textLength="33.80" lengthAdjust="spacing">13028</text>
<text x="170.20" y="227.30" textLength="40.80" lengthAdjust="spacing">13024A</text>
<text x="177.70" y="244.30" textLength="32.80" lengthAdjust="spacing">13086</text>
<text x="160.70" y="269.30" textLength="39.80" lengthAdjust="spacing">13024B</text>
<text x="144.20" y="287.05" textLength="31.30" lengthAdjust="spacing">13070</text>
<text x="107.20" y="318.55" textLength="45.30" lengthAdjust="spacing">13015AA</text>
<text x="150.70" y="352.30" textLength="44.80" lengthAdjust="spacing">13015AB</text>
<text x="222.20" y="390.55" textLength="45.80" lengthAdjust="spacing">13070+A</text>
<text x="205.20" y="407.30" textLength="38.30" lengthAdjust="spacing">13070A</text>
<text x="366.70" y="414.30" textLength="32.80" lengthAdjust="spacing">13083</text>
<text x="394.70" y="402.55" textLength="36.80" lengthAdjust="spacing">15041N</text>
<text x="352.20" y="253.05" textLength="33.30" lengthAdjust="spacing">13025</text>
<text x="397.70" y="221.55" textLength="36.80" lengthAdjust="spacing">13001A</text>
<text x="428.70" y="253.05" textLength="30.80" lengthAdjust="spacing">13020</text>
<text x="355.20" y="274.30" textLength="32.80" lengthAdjust="spacing">13085</text>
<text x="399.20" y="290.55" textLength="37.30" lengthAdjust="spacing">13081M</text>
<text x="416.70" y="310.55" textLength="41.80" lengthAdjust="spacing">SEC.120</text>
<text x="415.70" y="321.55" textLength="40.80" lengthAdjust="spacing">(13021)</text>
<text x="434.20" y="365.05" textLength="40.05" lengthAdjust="spacing">15043M</text>
<text x="514.70" y="216.05" textLength="31.30" lengthAdjust="spacing">13231</text>
<text x="518.70" y="228.30" textLength="30.30" lengthAdjust="spacing">13210</text>
<text x="519.20" y="239.55" textLength="33.30" lengthAdjust="spacing">13209</text>
<text x="522.70" y="257.55" textLength="32.80" lengthAdjust="spacing">13203</text>
<text x="525.70" y="275.55" textLength="32.80" lengthAdjust="spacing">13207</text>
<text x="527.70" y="287.55" textLength="33.30" lengthAdjust="spacing">13205</text>
<text x="532.70" y="318.55" textLength="32.80" lengthAdjust="spacing">13202</text>
<text x="668.70" y="230.55" textLength="31.30" lengthAdjust="spacing">13231</text>
<text x="663.70" y="246.05" textLength="29.80" lengthAdjust="spacing">13210</text>
<text x="659.70" y="258.55" textLength="33.30" lengthAdjust="spacing">13209</text>
<text x="655.20" y="278.55" textLength="33.30" lengthAdjust="spacing">13203</text>
<text x="649.70" y="295.05" textLength="32.80" lengthAdjust="spacing">13207</text>
<text x="647.70" y="306.30" textLength="32.80" lengthAdjust="spacing">13205</text>
<text x="640.70" y="337.05" textLength="30.80" lengthAdjust="spacing">13201</text>
</g>
<g filter="url(#nf)">
<text class="dn" x="730.6" y="425.3" textLength="65" lengthAdjust="spacing">J13000KU</text>
<text class="fr" transform="translate(497.6,380.1) rotate(29.5) skewX(-6)" textLength="41.5" lengthAdjust="spacing">FRONT</text>
</g>
</svg></body></html>
